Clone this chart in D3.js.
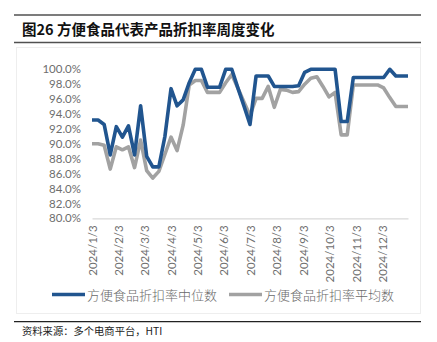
<!DOCTYPE html>
<html><head><meta charset="utf-8">
<script src="https://cdn.jsdelivr.net/npm/d3@7"></script>
<style>
html,body{margin:0;padding:0;background:#fff;}
svg{display:block;}
</style></head>
<body>
<svg id="chart" width="437" height="342"></svg>
<script>
const title = "图26 方便食品代表产品折扣率周度变化";
const source = "资料来源：多个电商平台，HTI";
const seriesNames = ["方便食品折扣率中位数", "方便食品折扣率平均数"];
const startDate = "2024-01-03";
const tickLabels = ["2024/1/3","2024/2/3","2024/3/3","2024/4/3","2024/5/3","2024/6/3","2024/7/3","2024/8/3","2024/9/3","2024/10/3","2024/11/3","2024/12/3"];
const yTicks = [80,82,84,86,88,90,92,94,96,98,100];
const medianValues = [93.2,93.2,92.6,88.5,92.3,90.9,92.4,88.5,95.1,88.3,86.9,86.9,91.0,97.4,95.1,95.9,98.2,100,100,97.6,97.6,97.6,100,100,97.5,95.1,92.6,99.1,99.1,99.1,97.7,97.7,97.7,97.7,97.8,99.6,100,100,100,100,100,93.0,93.0,98.9,98.9,98.9,98.9,98.9,98.9,100,99.1,99.1,99.1];
const meanValues = [90.0,90.0,89.8,86.6,89.6,89.2,89.6,86.8,90.5,86.4,85.4,86.3,88.6,90.9,89.1,92.5,97.9,98.5,98.5,96.9,96.9,96.9,98.2,99.3,97.5,95.6,93.8,96.1,96.1,97.7,94.9,97.3,97.2,96.9,97.0,98.0,98.8,99.0,97.7,96.3,96.9,91.2,91.2,97.9,97.9,97.9,97.9,97.9,97.5,96.2,95.0,95.0,95.0];

const colors = ["#21558f", "#a2a2a2"];
const svg = d3.select("#chart");
const parse = d3.timeParse("%Y-%m-%d");
const d0 = parse(startDate);
const dates = medianValues.map((_, i) => d3.timeDay.offset(d0, 7 * i));
const tickDates = tickLabels.map(s => d3.timeParse("%Y/%m/%d")(s));

const x = d3.scaleTime().domain([dates[0], dates[dates.length - 1]]).range([92, 408]);
const y = d3.scaleLinear().domain([80, 100]).range([218.3, 69.3]);

// chart frame
svg.append("rect").attr("x", 16.5).attr("y", 47.5).attr("width", 404).attr("height", 266)
  .attr("fill", "none").attr("stroke", "#eeeeee").attr("stroke-width", 1);

// title rules
svg.append("line").attr("x1", 14).attr("x2", 421).attr("y1", 15).attr("y2", 15).attr("stroke", "#505050").attr("stroke-width", 1.5);
svg.append("line").attr("x1", 14).attr("x2", 421).attr("y1", 42.5).attr("y2", 42.5).attr("stroke", "#505050").attr("stroke-width", 1.5);
svg.append("text").attr("x", 22).attr("y", 34.5).text(title)
  .attr("font-family", "'Noto Sans CJK SC', sans-serif").attr("font-weight", "bold")
  .attr("font-size", 14.5).attr("fill", "#111");

// y axis
const yAxis = d3.axisLeft(y).tickValues(yTicks).tickFormat(d => d3.format(".1f")(d) + "%").tickSize(0).tickPadding(0);
const gy = svg.append("g").attr("transform", "translate(81,0)").call(yAxis);
gy.select(".domain").remove();
gy.selectAll("text").attr("font-family", "Lato, 'Open Sans', sans-serif").attr("font-size", 11.5).attr("fill", "#6e6e6e");

// x axis
const xAxis = d3.axisBottom(x).tickValues(tickDates).tickFormat((d, i) => tickLabels[i]).tickSize(0).tickPadding(0);
const gx = svg.append("g").attr("transform", "translate(0,218.3)").call(xAxis);
gx.select(".domain").attr("stroke", "#d9d9d9").attr("stroke-width", 1.2);
gx.selectAll("text")
  .attr("font-family", "Lato, 'Open Sans', sans-serif").attr("font-size", 11.5).attr("fill", "#6e6e6e")
  .attr("text-anchor", "end").attr("dy", "0.35em")
  .attr("transform", "translate(0,7) rotate(-90)").attr("x", 0).attr("y", 0);

// lines
const line = d3.line().x((d, i) => x(dates[i])).y(d => y(d));
[meanValues, medianValues].forEach((vals, k) => {
  const c = k === 0 ? colors[1] : colors[0];
  svg.append("path").datum(vals).attr("d", line).attr("fill", "none")
    .attr("stroke", c).attr("stroke-width", 3.6).attr("stroke-linejoin", "round").attr("stroke-linecap", "butt");
});

// legend
const legendItems = [{x: 52, name: seriesNames[0], c: colors[0]}, {x: 229, name: seriesNames[1], c: colors[1]}];
legendItems.forEach(it => {
  svg.append("line").attr("x1", it.x).attr("x2", it.x + 33).attr("y1", 294.5).attr("y2", 294.5)
    .attr("stroke", it.c).attr("stroke-width", 3.6);
  svg.append("text").attr("x", it.x + 35).attr("y", 299.5).text(it.name)
    .attr("font-family", "'Noto Sans CJK SC', sans-serif").attr("font-weight", 300).attr("font-size", 13).attr("fill", "#6a6a6a");
});

// footer
svg.append("line").attr("x1", 14).attr("x2", 421).attr("y1", 321.7).attr("y2", 321.7).attr("stroke", "#222").attr("stroke-width", 1.3);
svg.append("text").attr("x", 22).attr("y", 334.5).text(source)
  .attr("font-family", "'Noto Sans CJK SC', sans-serif").attr("font-size", 10.3).attr("fill", "#222");
</script>
</body></html>
